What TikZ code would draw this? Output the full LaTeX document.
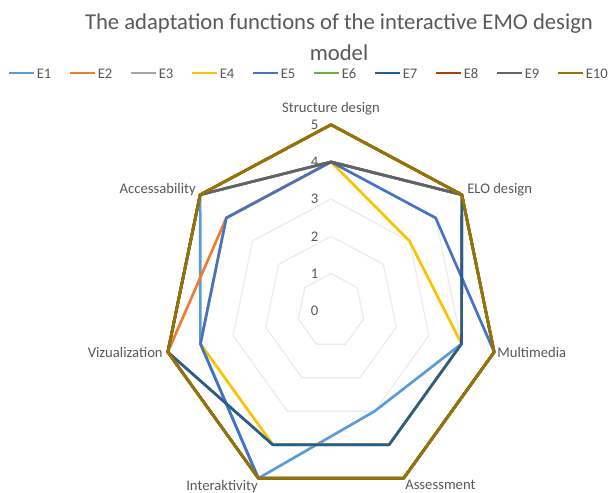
\documentclass[tikz,border=0pt]{standalone}
\usepackage{fontspec}
\setmainfont{Carlito}

% series colours
\definecolor{cE1}{HTML}{5B9BD5}
\definecolor{cE2}{HTML}{ED7D31}
\definecolor{cE3}{HTML}{A5A5A5}
\definecolor{cE4}{HTML}{FFC000}
\definecolor{cE5}{HTML}{4472C4}
\definecolor{cE6}{HTML}{70AD47}
\definecolor{cE7}{HTML}{255E91}
\definecolor{cE8}{HTML}{9E480E}
\definecolor{cE9}{HTML}{636363}
\definecolor{cE10}{HTML}{997300}
\definecolor{labelgray}{HTML}{595959}
\definecolor{gridgray}{HTML}{EAEAEA}

\begin{document}
\begin{tikzpicture}[x=0.75pt,y=-0.75pt,
  txt/.style={text=labelgray, font=\fontsize{11}{13}\selectfont, inner sep=0pt},
  ticklabel/.style={txt, anchor=east},
  ring/.style={draw=gridgray, line width=0.8pt, line join=round},
  series/.style={line width=2pt, line join=round},
  keyline/.style={line width=2.2pt}]
\useasboundingbox[fill=white] (0,0) rectangle (611,493);

% chart centre (331,310.7), 37.2 px per unit radially, axes compressed to 0.9 horizontally
\def\cx{331}
\def\cy{310.7}

% title
\node[align=center, text=labelgray, font=\fontsize{17}{21}\selectfont, inner sep=0pt]
  (title) at (339,37.5) {The adaptation functions of the interactive EMO design\\[2.5pt]model};

% legend
\foreach \s [count=\i from 0] in {E1,E2,E3,E4,E5,E6,E7,E8,E9,E10}{
  \draw[keyline, draw=c\s] ({9+61*\i},73) -- ++(25,0);
  \node[txt, anchor=west] (key\s) at ({36.5+61*\i},73.5) {\s};
}

% grid rings
\foreach \r in {1,...,5}
  \draw[ring] plot[samples at={0,...,6}, variable=\k]
    ({\cx+33.48*\r*cos(90-\k*360/7)},{\cy-37.2*\r*sin(90-\k*360/7)}) -- cycle;

% value axis labels
\foreach \v in {0,...,5}
  \node[ticklabel] (tick\v) at (318.5,{\cy-37.2*\v}) {\v};

% category labels
\node[txt, anchor=south] (ax0) at (331,115) {Structure design};
\node[txt, anchor=west] (ax1) at (467,190) {ELO design};
\node[txt, anchor=west] (ax2) at (497,352) {Multimedia};
\node[txt, anchor=north west] (ax3) at (405,480) {Assessment};
\node[txt, anchor=north east] (ax4) at (258,480) {Interaktivity};
\node[txt, anchor=east] (ax5) at (163,352) {Vizualization};
\node[txt, anchor=east] (ax6) at (196,190) {Accessability};

% data series, drawn in order so that later ones lie on top
\foreach \s/\vals in {
    E1/{5,5,4,3,5,4,5},
    E2/{4,5,4,4,4,5,4},
    E3/{5,5,5,5,5,5,5},
    E4/{4,3,4,4,4,4,4},
    E5/{4,4,5,5,5,4,4},
    E6/{5,5,5,5,5,5,5},
    E7/{4,5,4,4,4,5,5},
    E8/{5,5,5,5,5,5,5},
    E9/{4,5,5,5,5,5,5},
    E10/{5,5,5,5,5,5,5}}{
  \foreach \v [count=\k from 0] in \vals
    \coordinate (\s-\k) at ({\cx+33.48*\v*cos(90-\k*360/7)},{\cy-37.2*\v*sin(90-\k*360/7)});
  \draw[series, draw=c\s] (\s-0) -- (\s-1) -- (\s-2) -- (\s-3) -- (\s-4) -- (\s-5) -- (\s-6) -- cycle;
}
\end{tikzpicture}
\end{document}
